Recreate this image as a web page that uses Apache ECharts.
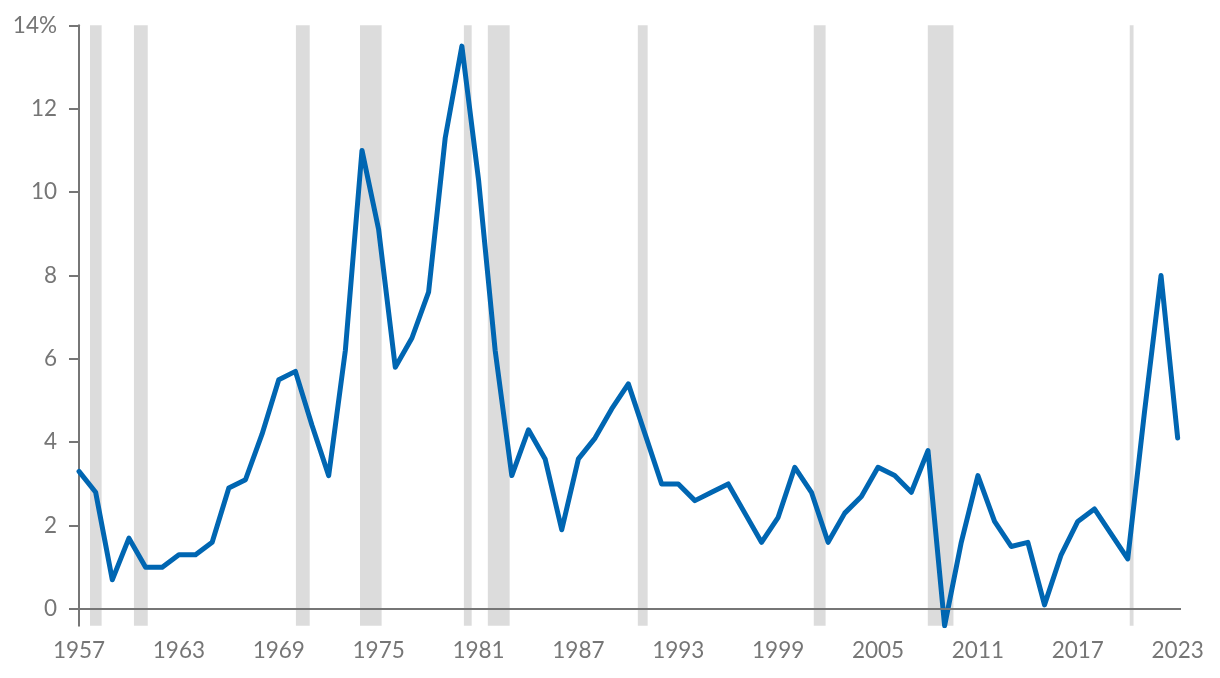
<!DOCTYPE html>
<html>
<head>
<meta charset="utf-8">
<script src="https://cdn.jsdelivr.net/npm/echarts@6/dist/echarts.min.js"></script>
<style>
html,body{margin:0;padding:0;background:#fff;}
#chart{width:1220px;height:678px;}
</style>
</head>
<body>
<div id="chart"></div>
<script>
// Years (x) and annual inflation rate (%)
const years = [];
for (let y = 1957; y <= 2023; y++) years.push(y);
const inflation = [
  3.3, 2.8, 0.7, 1.7, 1.0, 1.0, 1.3, 1.3, 1.6, 2.9,
  3.1, 4.2, 5.5, 5.7, 4.4, 3.2, 6.2, 11.0, 9.1, 5.8,
  6.5, 7.6, 11.3, 13.5, 10.3, 6.2, 3.2, 4.3, 3.6, 1.9,
  3.6, 4.1, 4.8, 5.4, 4.2, 3.0, 3.0, 2.6, 2.8, 3.0,
  2.3, 1.6, 2.2, 3.4, 2.8, 1.6, 2.3, 2.7, 3.4, 3.2,
  2.8, 3.8, -0.4, 1.6, 3.2, 2.1, 1.5, 1.6, 0.1, 1.3,
  2.1, 2.4, 1.8, 1.2, 4.7, 8.0, 4.1
];
// Recession periods (start, end) as fractional years
const recessionStarts = [1957.66, 1960.30, 1970.03, 1973.88, 1980.12, 1981.56, 1990.57, 2001.14, 2007.99, 2020.12];
const recessionEnds   = [1958.36, 1961.13, 1970.86, 1975.18, 1980.59, 1982.87, 1991.16, 2001.85, 2009.53, 2020.35];
// Tick labels
const xTickYears = [1957, 1963, 1969, 1975, 1981, 1987, 1993, 1999, 2005, 2011, 2017, 2023];
const yTicks = [0, 2, 4, 6, 8, 10, 12, 14];

const lineData = years.map((y, i) => [y, inflation[i]]);
const areas = recessionStarts.map((s, i) => [{ xAxis: s }, { xAxis: recessionEnds[i] }]);

const textColor = '#767676';
const axisColor = '#767676';
const font = 'Lato, "Open Sans", sans-serif';

const chart = echarts.init(document.getElementById('chart'), null, { renderer: 'canvas' });
chart.setOption({
  backgroundColor: '#ffffff',
  animation: false,
  grid: { left: 79, top: 25.3, right: 39, bottom: 52.3, containLabel: false },
  xAxis: {
    type: 'value',
    min: 1957,
    max: 2023.2,
    interval: 6,
    axisLine: { show: false },
    axisTick: { show: false },
    splitLine: { show: false },
    axisLabel: {
      customValues: xTickYears,
      color: textColor,
      fontFamily: font,
      fontSize: 22.5,
      margin: 14,
      formatter: v => String(v)
    }
  },
  yAxis: {
    type: 'value',
    min: -0.4,
    max: 14,
    axisLine: { show: true, lineStyle: { color: axisColor, width: 2 } },
    axisTick: { show: true, length: 10, customValues: yTicks, lineStyle: { color: axisColor, width: 2 } },
    splitLine: { show: false },
    axisLabel: {
      customValues: yTicks,
      color: textColor,
      fontFamily: font,
      fontSize: 22.5,
      margin: 22,
      formatter: v => (v === 14 ? '14%' : String(v))
    }
  },
  series: [
    {
      type: 'line',
      data: [],
      z: 1,
      silent: true,
      markArea: {
        silent: true,
        itemStyle: { color: '#dcdcdc' },
        data: areas
      }
    },
    {
      type: 'line',
      data: [],
      z: 2,
      silent: true,
      markLine: {
        silent: true,
        symbol: ['none', 'none'],
        label: { show: false },
        lineStyle: { color: axisColor, width: 2, type: 'solid' },
        data: [{ yAxis: 0 }]
      }
    },
    {
      type: 'line',
      data: lineData,
      z: 3,
      showSymbol: false,
      symbol: 'none',
      lineStyle: { color: '#0066b2', width: 5, cap: 'round', join: 'round' },
      silent: true
    }
  ]
});
</script>
</body>
</html>
